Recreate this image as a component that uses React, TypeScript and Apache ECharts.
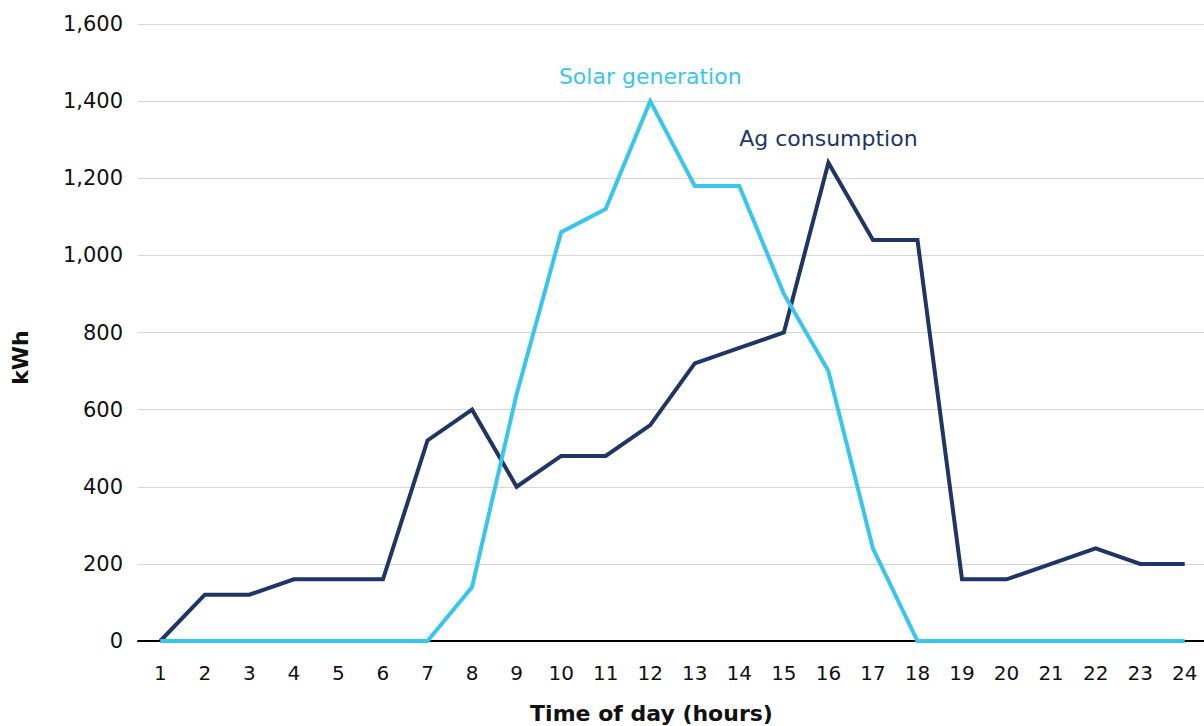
import React, { useEffect, useRef } from "react";
import * as echarts from "echarts";

const hours = ["1","2","3","4","5","6","7","8","9","10","11","12","13","14","15","16","17","18","19","20","21","22","23","24"];
const agConsumption = [0,120,120,160,160,160,520,600,400,480,480,560,720,760,800,1240,1040,1040,160,160,200,240,200,200];
const solarGeneration = [0,0,0,0,0,0,0,140,640,1060,1120,1400,1180,1180,900,700,240,0,0,0,0,0,0,0];
const yTicks = { min: 0, max: 1600, interval: 200 };

const NAVY = "#1f3566";
const SKY = "#38c6ec";
const FONT = "DejaVu Sans";

function peakMark(values: number[], text: string, color: string, distance: number) {
  const max = Math.max(...values);
  const idx = values.indexOf(max);
  return {
    symbol: "circle",
    symbolSize: 0,
    silent: true,
    data: [{ coord: [idx, max] }],
    label: {
      show: true,
      position: "top",
      distance,
      formatter: text,
      color,
      fontSize: 22,
      fontFamily: FONT,
    },
  };
}

export default function App() {
  const ref = useRef<HTMLDivElement>(null);
  useEffect(() => {
    if (!ref.current) return;
    const chart = echarts.init(ref.current, undefined, { renderer: "svg" });
    chart.setOption({
      animation: false,
      textStyle: { fontFamily: FONT },
      grid: { left: 138, right: -3, top: 24, bottom: 85, outerBoundsMode: "none", containLabel: false },
      xAxis: {
        type: "category",
        data: hours,
        boundaryGap: true,
        axisLine: { show: true, lineStyle: { color: "#000", width: 2 } },
        axisTick: { show: false },
        axisLabel: { color: "#111", fontSize: 20, margin: 22, fontFamily: FONT },
        name: "Time of day (hours)",
        nameLocation: "middle",
        nameGap: 61,
        nameTextStyle: {
          color: "#111",
          fontSize: 22,
          fontWeight: "bold",
          fontFamily: FONT,
          padding: [0, 42, 0, 0],
        },
      },
      yAxis: {
        type: "value",
        min: yTicks.min,
        max: yTicks.max,
        interval: yTicks.interval,
        axisLine: { show: false },
        axisTick: { show: false },
        splitLine: { lineStyle: { color: "#d6d6d6", width: 1 } },
        axisLabel: {
          color: "#111",
          fontSize: 21,
          margin: 15,
          fontFamily: FONT,
          formatter: (v: number) => v.toLocaleString("en-US"),
        },
        name: "kWh",
        nameLocation: "middle",
        nameGap: 107,
        nameTextStyle: {
          color: "#111",
          fontSize: 22,
          fontWeight: "bold",
          fontFamily: FONT,
          padding: [0, 50, 0, 0],
        },
      },
      series: [
        {
          name: "Ag consumption",
          type: "line",
          data: agConsumption,
          symbol: "none",
          lineStyle: { color: NAVY, width: 4, join: "miter" },
          itemStyle: { color: NAVY },
          markPoint: peakMark(agConsumption, "Ag consumption", NAVY, 13),
          z: 2,
        },
        {
          name: "Solar generation",
          type: "line",
          data: solarGeneration,
          symbol: "none",
          lineStyle: { color: SKY, width: 4, join: "miter" },
          itemStyle: { color: SKY },
          markPoint: peakMark(solarGeneration, "Solar generation", SKY, 14),
          z: 3,
        },
      ],
    });
    return () => chart.dispose();
  }, []);
  return (
    <div
      ref={ref}
      style={{ position: "fixed", left: 0, top: 0, width: 1204, height: 726, background: "#fff" }}
    />
  );
}
